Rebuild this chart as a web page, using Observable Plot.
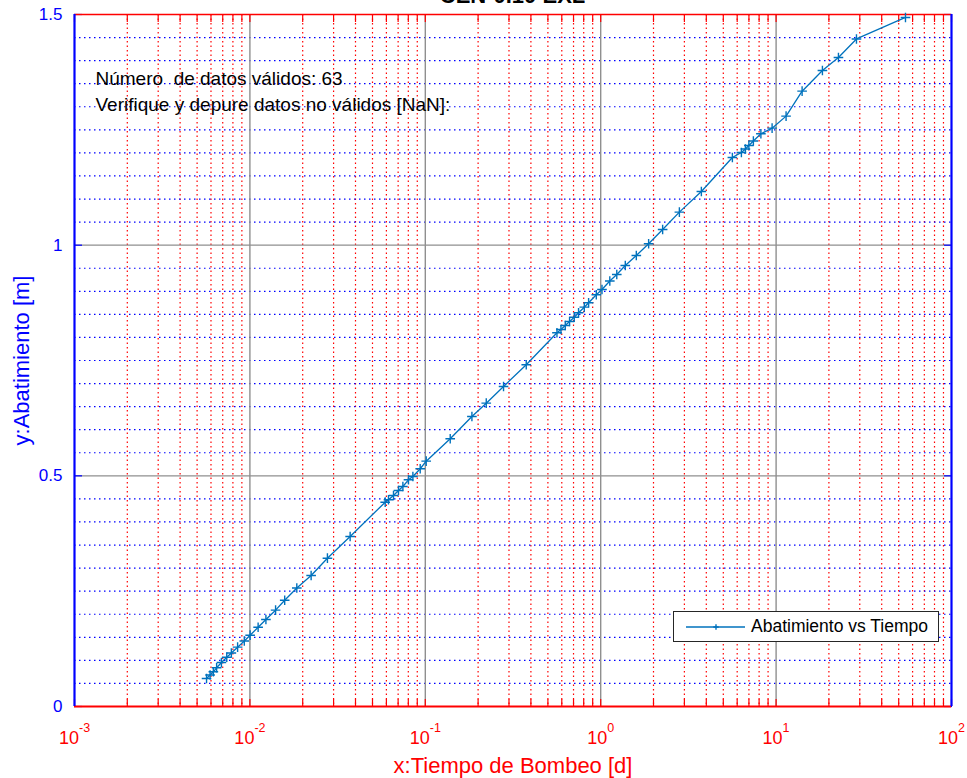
<!DOCTYPE html>
<html>
<head>
<meta charset="utf-8">
<script src="https://cdn.jsdelivr.net/npm/d3@7"></script>
<script src="https://cdn.jsdelivr.net/npm/@observablehq/plot@0.6"></script>
<style>
html,body{margin:0;padding:0;background:#fff;}
#wrap{position:relative;width:967px;height:778px;overflow:hidden;font-family:"Liberation Sans",Arial,sans-serif;}
#title{position:absolute;left:0;top:-15px;width:1025px;text-align:center;font-weight:bold;font-size:22px;line-height:22px;color:#000;}
#legend{position:absolute;left:673px;top:611px;width:264px;height:29px;border:1px solid #262626;background:#fff;}
#legend svg{position:absolute;left:0;top:0;}
#legend span{position:absolute;left:77px;top:4px;font-size:17.5px;line-height:21px;color:#000;white-space:pre;}
#chart svg{display:block;}
</style>
</head>
<body>
<div id="wrap">
  <div id="chart"></div>
  <div id="title">CEN-0.10 EXL</div>
  <div id="legend">
    <svg width="80" height="29"><line x1="12" y1="15" x2="71" y2="15" stroke="#0072BD" stroke-width="1.3"/><path d="M39.3,15h5.4M42,12.3v5.4" stroke="#0072BD" stroke-width="1.4" fill="none"/></svg>
    <span>Abatimiento vs Tiempo</span>
  </div>
</div>
<script>
// Data
const tiempo = [0.00566, 0.00593, 0.00619, 0.00646, 0.00688, 0.00738, 0.00784, 0.00851, 0.00929, 0.01003,
  0.01114, 0.01234, 0.01401, 0.01579, 0.01851, 0.02234, 0.02767, 0.03728, 0.05906, 0.06167,
  0.06587, 0.07033, 0.07451, 0.08019, 0.08497, 0.09352, 0.1012, 0.1387, 0.1844, 0.2226,
  0.2793, 0.3763, 0.5632, 0.5935, 0.6281, 0.6645, 0.7068, 0.7478, 0.8063, 0.8532,
  0.9438, 1.017, 1.127, 1.235, 1.381, 1.596, 1.876, 2.255, 2.809, 3.749,
  5.633, 6.341, 6.683, 6.995, 7.421, 8.190, 9.489, 11.40, 14.07, 18.37,
  22.67, 28.72, 54.66];
const abatimiento = [0.0607, 0.0683, 0.0752, 0.0839, 0.0954, 0.1069, 0.1160, 0.1286, 0.1420, 0.1546,
  0.1719, 0.1886, 0.2088, 0.2304, 0.2569, 0.2840, 0.3215, 0.3685, 0.4429, 0.4481,
  0.4574, 0.4682, 0.4769, 0.4914, 0.4986, 0.5153, 0.5318, 0.5803, 0.6287, 0.6575,
  0.6937, 0.7407, 0.8101, 0.8173, 0.8259, 0.8346, 0.8439, 0.8535, 0.8656, 0.8751,
  0.8925, 0.9040, 0.9224, 0.9365, 0.9560, 0.9777, 1.0030, 1.0340, 1.0716, 1.1164,
  1.1901, 1.2010, 1.2085, 1.2161, 1.2259, 1.2415, 1.2536, 1.2797, 1.3338, 1.3787,
  1.4069, 1.4470, 1.4936];

const xDecades = [1e-3, 1e-2, 1e-1, 1, 10, 100];
const xExponents = ["-3", "-2", "-1", "0", "1", "2"];
const xMinorMultipliers = [2, 3, 4, 5, 6, 7, 8, 9];
const yTicks = [0, 0.5, 1, 1.5];
const yTickLabels = ["0", "0.5", "1", "1.5"];
const yMinor = [0.05, 0.1, 0.15, 0.2, 0.25, 0.3, 0.35, 0.4, 0.45, 0.55, 0.6, 0.65, 0.7, 0.75, 0.8, 0.85, 0.9, 0.95,
  1.05, 1.1, 1.15, 1.2, 1.25, 1.3, 1.35, 1.4, 1.45];
const annotations = ["Número  de datos válidos: 63", "Verifique y depure datos no válidos [NaN]:"];
const xLabel = "x:Tiempo de Bombeo [d]";
const yLabel = "y:Abatimiento [m]";

const data = tiempo.map((t, i) => ({t, s: abatimiento[i]}));
const minorX = xDecades.slice(0, -1).flatMap(d => xMinorMultipliers.map(m => m * d));
const allX = xDecades.concat(minorX);
const innerDecades = xDecades.slice(1, -1);
const innerY = yTicks.slice(1, -1);
const decadeLabels = xDecades.map((d, i) => ({d, e: xExponents[i]}));
const negLabels = decadeLabels.filter(o => o.d < 1);
const posLabels = decadeLabels.filter(o => o.d >= 1);
const font = "Liberation Sans, Arial, sans-serif";

const chart = Plot.plot({
  width: 967, height: 778,
  marginLeft: 74, marginRight: 16, marginTop: 14, marginBottom: 72,
  style: {fontFamily: font, background: "transparent", overflow: "visible"},
  x: {type: "log", domain: [1e-3, 1e2]},
  y: {domain: [0, 1.5]},
  marks: [
    Plot.gridX(minorX, {stroke: "#ff0000", strokeOpacity: 1, strokeWidth: 1.2, strokeDasharray: "1.5,3"}),
    Plot.gridY(yMinor, {stroke: "#0000ff", strokeOpacity: 1, strokeWidth: 1.2, strokeDasharray: "1.5,3.5"}),
    Plot.gridX(innerDecades, {stroke: "#8f8f8f", strokeOpacity: 1, strokeWidth: 1.4}),
    Plot.gridY(innerY, {stroke: "#8f8f8f", strokeOpacity: 1, strokeWidth: 1.4}),
    Plot.axisX(allX, {anchor: "bottom", tickSize: -7, tickFormat: () => "", stroke: "#ff0000", strokeWidth: 1.2, label: null}),
    Plot.axisX(allX, {anchor: "top", tickSize: -7, tickFormat: () => "", stroke: "#ff0000", strokeWidth: 1.2, label: null}),
    Plot.axisY(yTicks, {anchor: "left", tickSize: -8, tickFormat: () => "", stroke: "#0000ff", strokeWidth: 1.2, label: null}),
    Plot.axisY(yTicks, {anchor: "right", tickSize: -8, tickFormat: () => "", stroke: "#0000ff", strokeWidth: 1.2, label: null}),
    Plot.axisY(yTicks, {anchor: "left", tickSize: 0, tickPadding: 12, tickFormat: d => yTickLabels[yTicks.indexOf(d)],
      fill: "#0000ff", fontSize: 17, label: null}),
    Plot.ruleY([1.5], {stroke: "#ff0000", strokeWidth: 1.6}),
    Plot.ruleY([0], {stroke: "#ff0000", strokeWidth: 2.2}),
    Plot.ruleX([1e-3], {stroke: "#0000ff", strokeWidth: 2.2}),
    Plot.ruleX([1e2], {stroke: "#0000ff", strokeWidth: 2.2}),
    // decade tick labels: "10" with superscript exponent
    Plot.text(negLabels, {x: "d", text: () => "10", frameAnchor: "bottom", dy: 32, dx: 4.5, textAnchor: "end",
      lineAnchor: "middle", fill: "#ff0000", fontSize: 18}),
    Plot.text(negLabels, {x: "d", text: "e", frameAnchor: "bottom", dy: 21, dx: 4.5, textAnchor: "start",
      lineAnchor: "middle", fill: "#ff0000", fontSize: 12.5}),
    Plot.text(posLabels, {x: "d", text: () => "10", frameAnchor: "bottom", dy: 32, dx: 6.5, textAnchor: "end",
      lineAnchor: "middle", fill: "#ff0000", fontSize: 18}),
    Plot.text(posLabels, {x: "d", text: "e", frameAnchor: "bottom", dy: 21, dx: 6.5, textAnchor: "start",
      lineAnchor: "middle", fill: "#ff0000", fontSize: 12.5}),
    // data
    Plot.line(data, {x: "t", y: "s", stroke: "#0072BD", strokeWidth: 1.3}),
    Plot.dot(data, {x: "t", y: "s", symbol: "plus", r: 3.2, stroke: "#0072BD", strokeWidth: 1.4}),
    // annotations
    Plot.text([annotations[0]], {text: d => d, frameAnchor: "top-left", dx: 21, dy: 64, textAnchor: "start",
      lineAnchor: "middle", fill: "#000", fontSize: 19, style: {whiteSpace: "pre"}}),
    Plot.text([annotations[1]], {text: d => d, frameAnchor: "top-left", dx: 21, dy: 90, textAnchor: "start",
      lineAnchor: "middle", fill: "#000", fontSize: 19}),
    // axis labels
    Plot.text([xLabel], {text: d => d, frameAnchor: "bottom", dy: 59, textAnchor: "middle", lineAnchor: "middle",
      fill: "#ff0000", fontSize: 22}),
    Plot.text([yLabel], {text: d => d, frameAnchor: "left", dx: -53, rotate: -90, textAnchor: "middle", lineAnchor: "middle",
      fill: "#0000ff", fontSize: 22})
  ]
});
document.getElementById("chart").appendChild(chart);
</script>
</body>
</html>
